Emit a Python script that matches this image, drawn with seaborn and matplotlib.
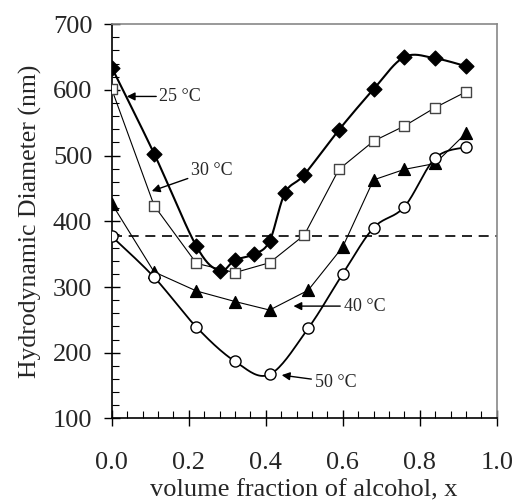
import numpy as np
import pandas as pd
import matplotlib
matplotlib.use("Agg")
import matplotlib.pyplot as plt
import seaborn as sns

# Hydrodynamic diameter (nm) vs. volume fraction of alcohol at four temperatures
x_25 = [0.0, 0.11, 0.22, 0.28, 0.32, 0.37, 0.41, 0.45, 0.50, 0.59, 0.68, 0.76, 0.84, 0.92]
d_25 = [634, 503, 362, 325, 341, 350, 370, 443, 471, 539, 601, 650, 648, 636]

x_30 = [0.0, 0.11, 0.22, 0.32, 0.41, 0.50, 0.59, 0.68, 0.76, 0.84, 0.92]
d_30 = [601, 424, 336, 322, 337, 379, 479, 522, 545, 573, 597]

x_40 = [0.0, 0.11, 0.22, 0.32, 0.41, 0.51, 0.60, 0.68, 0.76, 0.84, 0.92]
d_40 = [427, 323, 294, 278, 265, 295, 361, 463, 479, 488, 534]

x_50 = [0.0, 0.11, 0.22, 0.32, 0.41, 0.51, 0.60, 0.68, 0.76, 0.84, 0.92]
d_50 = [377, 315, 239, 187, 167, 237, 320, 390, 422, 496, 513]

reference_level = 377

labels = ["25 °C", "30 °C", "40 °C", "50 °C"]
x_ticks = [0.0, 0.2, 0.4, 0.6, 0.8, 1.0]
y_ticks = [100, 200, 300, 400, 500, 600, 700]


def smooth(xs, ys, n=20):
    """Catmull-Rom curve through the points (a 'smoothed line')."""
    p = np.column_stack([xs, ys]).astype(float)
    p = np.vstack([p[0], p, p[-1]])
    out = []
    t = np.linspace(0, 1, n, endpoint=False)[:, None]
    for i in range(1, len(p) - 2):
        p0, p1, p2, p3 = p[i - 1], p[i], p[i + 1], p[i + 2]
        seg = 0.5 * ((2 * p1) + (-p0 + p2) * t + (2 * p0 - 5 * p1 + 4 * p2 - p3) * t ** 2
                     + (-p0 + 3 * p1 - 3 * p2 + p3) * t ** 3)
        out.append(seg)
    out.append(p[-2][None, :])
    out = np.vstack(out)
    return out[:, 0], out[:, 1]


sns.set_theme(style="ticks")
plt.rcParams["font.family"] = ["Liberation Serif", "DejaVu Serif"]

fig = plt.figure(figsize=(5.15, 5.03), dpi=100)
ax = fig.add_axes([0.217, 0.168, 0.7475, 0.784])

# (x, y, marker, face, edge, line width, marker size, smoothed)
series = [
    (x_25, d_25, "D", "black", "black", 1.5, 7.5, True),
    (x_30, d_30, "s", "white", "#444444", 0.8, 7, False),
    (x_40, d_40, "^", "black", "black", 0.8, 8.5, False),
    (x_50, d_50, "o", "white", "black", 1.3, 8, True),
]

for xs, ys, mk, face, edge, lw, ms, smoothed in series:
    if smoothed:
        sx, sy = smooth(xs, ys)
    else:
        sx, sy = xs, ys
    curve = pd.DataFrame({"x": sx, "y": sy})
    sns.lineplot(data=curve, x="x", y="y", sort=False, color="black", lw=lw,
                 ax=ax, zorder=2)
    pts = pd.DataFrame({"x": xs, "y": ys})
    sns.scatterplot(data=pts, x="x", y="y", marker=mk, s=ms ** 2,
                    facecolor=face, edgecolor=edge, linewidth=1.0, ax=ax, zorder=3)

ax.axhline(reference_level, color="black", lw=1.2, ls=(0, (6, 4)), zorder=1)

arrow = dict(arrowstyle="-|>", color="black", lw=1.0, mutation_scale=12,
             shrinkA=0, shrinkB=0)
ax.annotate(labels[0], xy=(0.039, 590), xytext=(0.124, 590), fontsize=13,
            va="center", ha="left", arrowprops=arrow)
ax.annotate(labels[1], xy=(0.104, 446), xytext=(0.206, 478), fontsize=13,
            va="center", ha="left", arrowprops=arrow)
ax.annotate(labels[2], xy=(0.472, 271), xytext=(0.602, 271), fontsize=13,
            va="center", ha="left", arrowprops=arrow)
ax.annotate(labels[3], xy=(0.4415, 166), xytext=(0.527, 155), fontsize=13,
            va="center", ha="left", arrowprops=arrow)

ax.set_xlim(0, 1.0)
ax.set_ylim(100, 700)
ax.set_xticks(x_ticks)
ax.set_xticklabels([f"{v:.1f}" for v in x_ticks])
ax.set_yticks(y_ticks)
ax.set_xticks(np.arange(0, 1.0001, 0.04), minor=True)
ax.set_yticks(np.arange(100, 701, 20), minor=True)
ax.tick_params(which="major", direction="inout", length=12, width=1.0,
               labelsize=19, color="black")
ax.tick_params(which="minor", direction="in", length=5, width=0.8, color="black")
ax.tick_params(axis="x", which="major", pad=18)
ax.tick_params(axis="y", which="major", pad=8)

ax.set_xlabel("volume fraction of alcohol, x", fontsize=19, labelpad=4)
ax.set_ylabel("Hydrodynamic Diameter (nm)", fontsize=18.5, labelpad=8)

for side in ("left", "bottom"):
    ax.spines[side].set_color("black")
    ax.spines[side].set_linewidth(1.2)
for side in ("top", "right"):
    ax.spines[side].set_visible(True)
    ax.spines[side].set_color("#888888")
    ax.spines[side].set_linewidth(1.2)

fig.savefig("out.png", dpi=100)
